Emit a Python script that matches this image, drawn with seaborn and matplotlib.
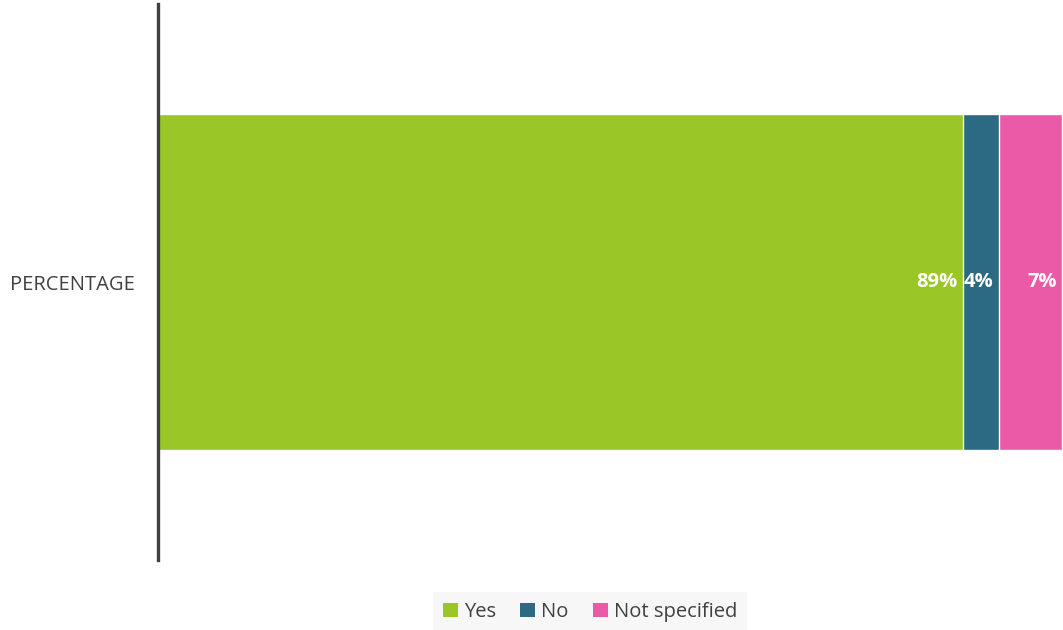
import numpy as np
import pandas as pd
import matplotlib
matplotlib.use("Agg")
import matplotlib.pyplot as plt
from matplotlib.patches import Patch
import seaborn as sns

# Survey responses (percent of respondents)
category = "PERCENTAGE"
responses = ["Yes", "No", "Not specified"]
values = [89, 4, 7]
colors = ["#9AC627", "#2C6982", "#EA5AA6"]

sns.set_theme(style="white")
plt.rcParams["font.family"] = ["Open Sans", "DejaVu Sans"]

fig = plt.figure(figsize=(10.63, 6.30), dpi=100)
ax = fig.add_axes([158 / 1063, 70 / 630, 904 / 1063, 556 / 630])

# Stacked bar: draw running totals back-to-front so each segment shows its share
cum = np.cumsum(values)
for total, col in reversed(list(zip(cum, colors))):
    df = pd.DataFrame({"category": [category], "total": [total]})
    sns.barplot(data=df, x="total", y="category", orient="h", color=col,
                width=0.606, edgecolor="white", linewidth=1.0, saturation=1,
                ax=ax)

# Value labels inside the right end of each segment
for total, v in zip(cum, values):
    ax.annotate(f"{v}%", xy=(total, 0), xytext=(-3.5, 0),
                textcoords="offset points", ha="right", va="center",
                color="white", fontsize=14.5, fontweight="bold")

ax.set_xlim(0, 100)
ax.set_xlabel("")
ax.set_ylabel("")
ax.set_xticks([])
ax.tick_params(axis="y", length=0, pad=17, labelsize=14.5, labelcolor="#404040")
for side in ["top", "right", "bottom"]:
    ax.spines[side].set_visible(False)
ax.spines["left"].set_color("#404040")
ax.spines["left"].set_linewidth(2.4)

handles = [Patch(facecolor=c, edgecolor="none") for c in colors]
leg = fig.legend(handles, responses, loc="center",
                 bbox_to_anchor=(590 / 1063, 1 - 612 / 630), ncol=3,
                 frameon=True, fancybox=False, fontsize=14.5,
                 handlelength=0.75, handleheight=0.75, handletextpad=0.3,
                 columnspacing=1.2, borderpad=0.5)
leg.get_frame().set_facecolor("#F5F5F5")
leg.get_frame().set_edgecolor("none")
for t in leg.get_texts():
    t.set_color("#404040")

fig.savefig("out.png", dpi=100)
